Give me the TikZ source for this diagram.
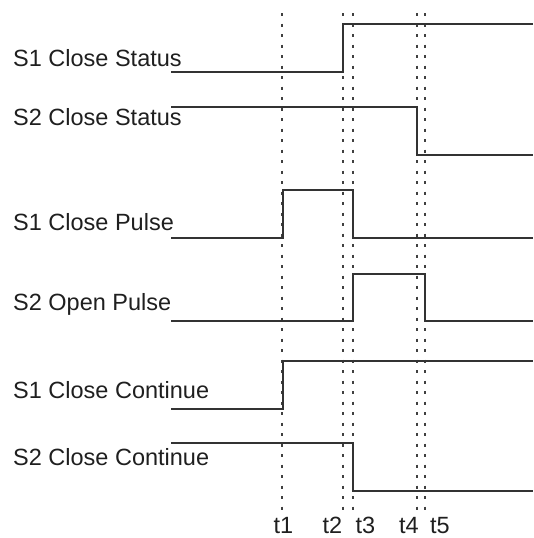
\documentclass[tikz,border=0pt]{standalone}
\usepackage{fontspec}
\setmainfont{Liberation Sans}
\begin{document}
\begin{tikzpicture}[x=1pt,y=-1pt,
  sig/.style={draw=black!80,line width=1.8pt,line join=miter},
  guide/.style={draw=black!75,line width=1.6pt,dash pattern=on 3pt off 7.5pt},
  lbl/.style={anchor=base west,inner sep=0pt,font=\fontsize{23.5}{27}\selectfont,text=black!88},
  tl/.style={anchor=base,inner sep=0pt,font=\fontsize{23.5}{27}\selectfont,text=black!88}]
\useasboundingbox (0,0) rectangle (533,538);
% time guides
\foreach \n/\x in {t1/282,t2/343,t3/353,t4/417,t5/425}{
  \coordinate (\n top) at (\x,13);
  \coordinate (\n bot) at (\x,511);
  \draw[guide] (\n top) -- (\n bot);
}
% time labels
\node[tl] (lt1) at (283.5,533) {t1};
\node[tl] (lt2) at (332.5,533) {t2};
\node[tl] (lt3) at (365.5,533) {t3};
\node[tl] (lt4) at (409,533) {t4};
\node[tl] (lt5) at (440,533) {t5};
% signal labels
\node[lbl] (l1) at (13,66) {S1 Close Status};
\node[lbl] (l2) at (13,125) {S2 Close Status};
\node[lbl] (l3) at (13,230) {S1 Close Pulse};
\node[lbl] (l4) at (13,310) {S2 Open Pulse};
\node[lbl] (l5) at (13,398) {S1 Close Continue};
\node[lbl] (l6) at (13,465) {S2 Close Continue};
% waveforms
\draw[sig] (171,72) -- (343,72) -- (343,24) -- (533,24);
\draw[sig] (171,107) -- (417,107) -- (417,155) -- (533,155);
\draw[sig] (171,238) -- (283,238) -- (283,190) -- (353,190) -- (353,238) -- (533,238);
\draw[sig] (171,321) -- (353,321) -- (353,274) -- (425,274) -- (425,321) -- (533,321);
\draw[sig] (171,409) -- (283,409) -- (283,361) -- (533,361);
\draw[sig] (171,443) -- (353,443) -- (353,491) -- (533,491);
\end{tikzpicture}
\end{document}
